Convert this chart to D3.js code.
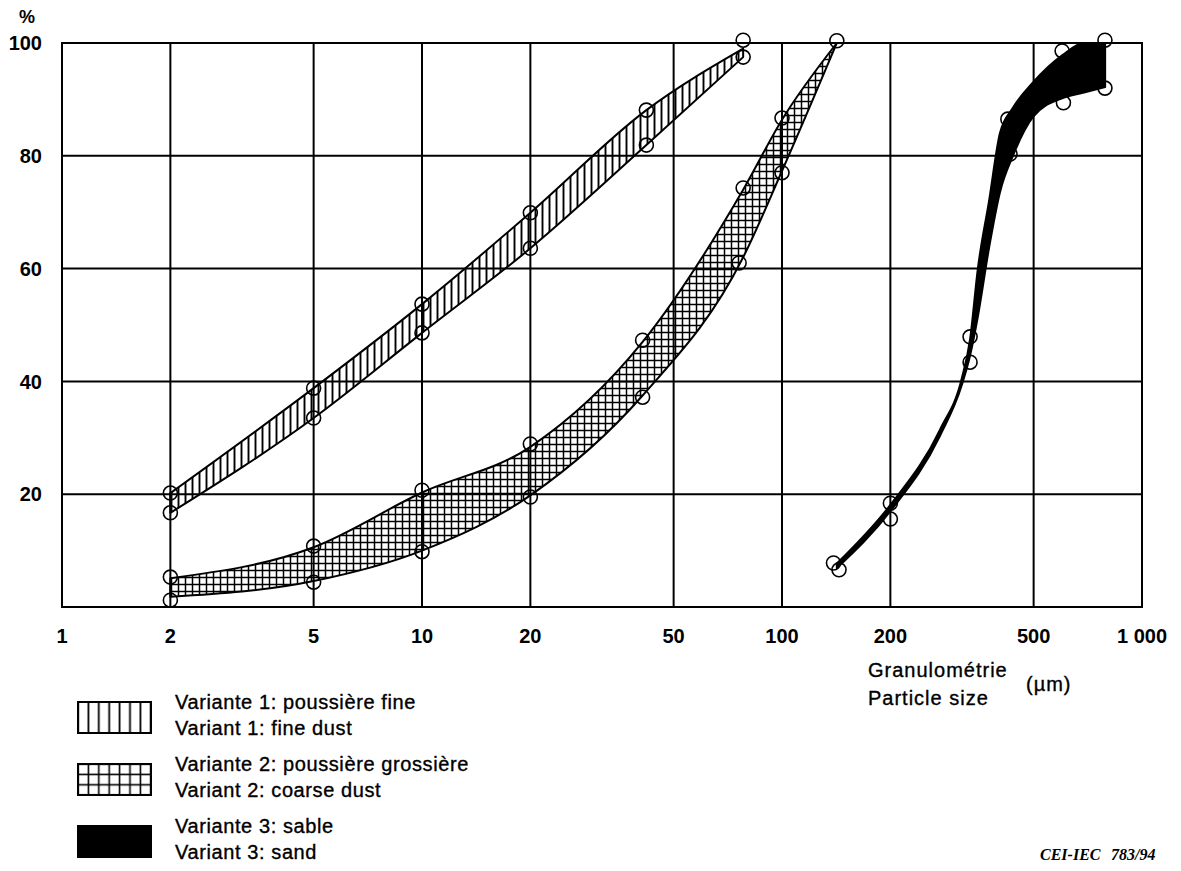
<!DOCTYPE html>
<html>
<head>
<meta charset="utf-8">
<script src="https://cdn.jsdelivr.net/npm/d3@7"></script>
<style>
  body { margin: 0; background: #fff; }
  svg text { font-family: "Liberation Sans", Arial, sans-serif; fill: #000; }
</style>
</head>
<body>
<svg id="chart" width="1181" height="871"></svg>
<script>
// Axis ticks
var xTicks = [1, 2, 5, 10, 20, 50, 100, 200, 500, 1000];
var xTickLabels = ["1", "2", "5", "10", "20", "50", "100", "200", "500", "1 000"];
var yTicks = [20, 40, 60, 80, 100];

// Variant 1: fine dust (band edges + measured points)
var fineX = [2, 5, 10, 20, 42, 78];
var fineHi = [20.2, 38.8, 53.7, 69.9, 88.1, 99];
var fineLo = [16.7, 33.5, 48.6, 63.6, 81.9, 97.5];
var fineDotHi = [20.2, 38.8, 53.7, 69.9, 88.1, 100.5];
var fineDotLo = [16.7, 33.5, 48.6, 63.6, 81.9, 97.5];

// Variant 2: coarse dust
var coarseX = [2, 5, 10, 20, 41, 78, 100, 142];
var coarseHi = [5.1, 10.6, 20.3, 28.4, 47, 74, 86.4, 100];
var coarseLo = [1.8, 4.6, 10, 19.8, 37.5, 62, 77.3, 100];
var coarseDotXHi = [2, 5, 10, 20, 41, 78, 100, 142];
var coarseDotHi = [5.3, 10.8, 20.7, 28.9, 47.3, 74.3, 86.7, 100.4];
var coarseDotXLo = [2, 5, 10, 20, 41, 76, 100];
var coarseDotLo = [1.2, 4.4, 9.8, 19.5, 37.2, 61, 77];

// Variant 3: sand
var sandX = [142, 200, 275, 316, 333, 350, 376, 403, 438, 498, 600, 690, 790];
var sandHi = [7.7, 18.1, 31.5, 40.6, 47.5, 60, 72, 84, 88.5, 93, 97.8, 100, 100];
var sandLo = [6.9, 17.0, 30.4, 39.4, 44.6, 51.5, 63.7, 73.5, 80, 86.9, 90.2, 91.2, 92.2];
var sandDotXHi = [139, 200, 333, 424, 600, 789];
var sandDotHi = [7.8, 18.4, 47.9, 86.5, 98.6, 100.5];
var sandDotXLo = [144, 200, 333, 430, 605, 789];
var sandDotLo = [6.6, 15.6, 43.4, 80.3, 89.4, 92];

var legendItems = [
  { fill: "url(#vLegend)", fr: "Variante 1: poussière fine", en: "Variant 1: fine dust" },
  { fill: "url(#xLegend)", fr: "Variante 2: poussière grossière", en: "Variant 2: coarse dust" },
  { fill: "#000", fr: "Variante 3: sable", en: "Variant 3: sand" }
];

var svg = d3.select("#chart");
var x = d3.scaleLog().domain([1, 1000]).range([62, 1142]);
var y = d3.scaleLinear().domain([0, 100]).range([607, 43]);

// Hatch patterns
var defs = svg.append("defs");
function hatch(id, size, cross, sw) {
  var p = defs.append("pattern")
    .attr("id", id)
    .attr("patternUnits", "userSpaceOnUse")
    .attr("width", size).attr("height", size);
  p.append("line")
    .attr("x1", size / 2).attr("x2", size / 2)
    .attr("y1", 0).attr("y2", size)
    .attr("stroke", "#000").attr("stroke-width", sw);
  if (cross) {
    p.append("line")
      .attr("x1", 0).attr("x2", size)
      .attr("y1", size / 2).attr("y2", size / 2)
      .attr("stroke", "#000").attr("stroke-width", sw);
  }
}
hatch("vHatch", 7, false, 1.9);
hatch("xHatch", 7, true, 1.5);
hatch("vLegend", 10.4, false, 1.8);
hatch("xLegend", 10.4, true, 1.6);

// Grid
var grid = svg.append("g").attr("class", "grid");
grid.selectAll(".vline")
  .data(xTicks.slice(1, -1))
  .enter().append("line")
  .attr("x1", function(d) { return x(d); })
  .attr("x2", function(d) { return x(d); })
  .attr("y1", y(100)).attr("y2", y(0))
  .attr("stroke", "#000").attr("stroke-width", 2);
grid.selectAll(".hline")
  .data(yTicks)
  .enter().append("line")
  .attr("x1", x(1)).attr("x2", x(1000))
  .attr("y1", function(d) { return y(d); })
  .attr("y2", function(d) { return y(d); })
  .attr("stroke", "#000").attr("stroke-width", 2);
grid.append("rect")
  .attr("x", x(1)).attr("y", y(100))
  .attr("width", x(1000) - x(1)).attr("height", y(0) - y(100))
  .attr("fill", "none").attr("stroke", "#000").attr("stroke-width", 2);

// Tick labels
svg.append("g").selectAll("text")
  .data(xTicks)
  .enter().append("text")
  .attr("x", function(d) { return x(d); })
  .attr("y", 643)
  .attr("text-anchor", "middle")
  .style("font-size", "20px").style("font-weight", "bold")
  .text(function(d, i) { return xTickLabels[i]; });

svg.append("g").selectAll("text")
  .data(yTicks)
  .enter().append("text")
  .attr("x", 42)
  .attr("y", function(d) { return y(d); })
  .attr("dy", "0.36em")
  .attr("text-anchor", "end")
  .style("font-size", "20px").style("font-weight", "bold")
  .text(function(d) { return d; });

svg.append("text")
  .attr("x", 27).attr("y", 23)
  .attr("text-anchor", "middle")
  .style("font-size", "18px").style("font-weight", "bold")
  .text("%");

// Bands
function zip(xs, hi, lo) {
  return xs.map(function(v, i) { return { x: v, hi: hi[i], lo: lo[i] }; });
}
var area = d3.area()
  .x(function(d) { return x(d.x); })
  .y0(function(d) { return y(d.lo); })
  .y1(function(d) { return y(d.hi); })
  .curve(d3.curveMonotoneX);

var bands = [
  { data: zip(fineX, fineHi, fineLo), fill: "url(#vHatch)" },
  { data: zip(coarseX, coarseHi, coarseLo), fill: "url(#xHatch)" },
  { data: zip(sandX, sandHi, sandLo), fill: "#000" }
];
svg.append("g").selectAll("path")
  .data(bands)
  .enter().append("path")
  .attr("d", function(d) { return area(d.data); })
  .attr("fill", function(d) { return d.fill; })
  .attr("stroke", "#000").attr("stroke-width", 2)
  .attr("stroke-linejoin", "round");

// Measured points
var dots = [];
function addDots(xs, ys) {
  xs.forEach(function(v, i) { dots.push({ x: v, y: ys[i] }); });
}
addDots(fineX, fineDotHi);
addDots(fineX, fineDotLo);
addDots(coarseDotXHi, coarseDotHi);
addDots(coarseDotXLo, coarseDotLo);
addDots(sandDotXHi, sandDotHi);
addDots(sandDotXLo, sandDotLo);

svg.append("g").selectAll("circle")
  .data(dots)
  .enter().append("circle")
  .attr("cx", function(d) { return x(d.x); })
  .attr("cy", function(d) { return y(d.y); })
  .attr("r", 7)
  .attr("fill", "none")
  .attr("stroke", "#000").attr("stroke-width", 1.6);

// Axis title
var title = svg.append("g")
  .style("font-size", "20px").style("letter-spacing", "1px")
  .style("stroke", "#000").style("stroke-width", "0.35px");
title.append("text").attr("x", 868).attr("y", 677).text("Granulométrie");
title.append("text").attr("x", 868).attr("y", 705).text("Particle size");
title.append("text").attr("x", 1026).attr("y", 691).text("(µm)");

// Legend
var legend = svg.append("g").selectAll("g")
  .data(legendItems)
  .enter().append("g")
  .attr("transform", function(d, i) { return "translate(0," + [0, 62, 124][i] + ")"; });
legend.append("rect")
  .attr("x", 78).attr("y", 702)
  .attr("width", 73).attr("height", 31)
  .attr("fill", function(d) { return d.fill; })
  .attr("stroke", "#000").attr("stroke-width", 2);
legend.append("text")
  .attr("x", 175).attr("y", 709)
  .style("font-size", "20px").style("letter-spacing", "0.6px")
  .style("stroke", "#000").style("stroke-width", "0.35px")
  .text(function(d) { return d.fr; });
legend.append("text")
  .attr("x", 175).attr("y", 735)
  .style("font-size", "20px").style("letter-spacing", "0.6px")
  .style("stroke", "#000").style("stroke-width", "0.35px")
  .text(function(d) { return d.en; });

// Figure reference
var ref = svg.append("g")
  .style("font-size", "16px").style("font-weight", "bold").style("font-style", "italic");
ref.append("text").attr("x", 1040).attr("y", 860)
  .style("font-family", "'Liberation Serif', 'Times New Roman', serif").text("CEI-IEC");
ref.append("text").attr("x", 1111).attr("y", 860)
  .style("font-family", "'Liberation Serif', 'Times New Roman', serif").text("783/94");
</script>
</body>
</html>
